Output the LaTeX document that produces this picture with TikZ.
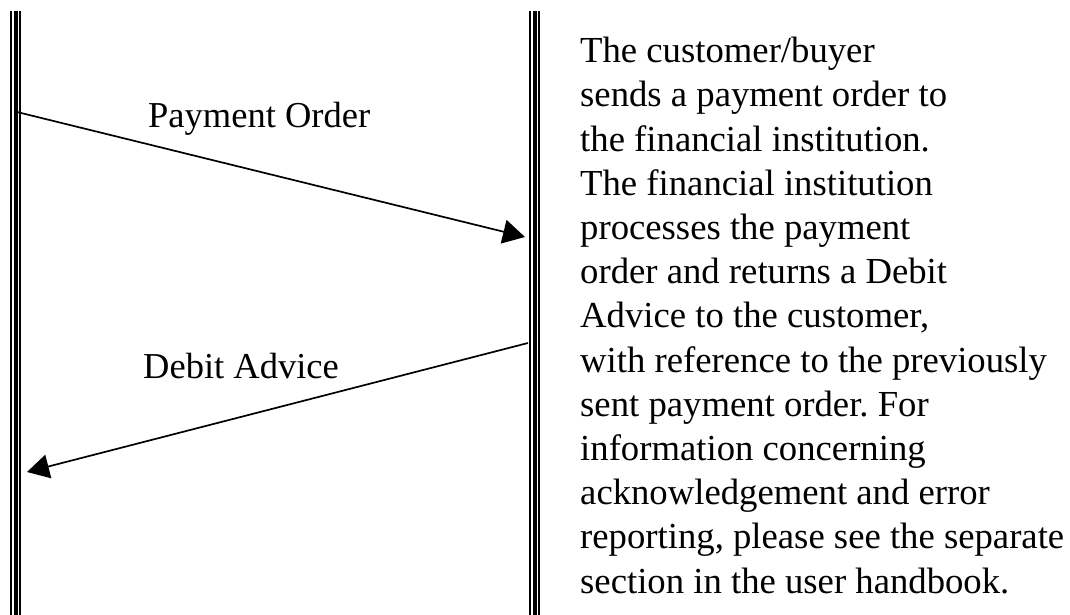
\documentclass[tikz,border=0pt]{standalone}
\usepackage{fontspec}
\setmainfont{Liberation Serif}
\usetikzlibrary{arrows.meta}
\frenchspacing

\tikzset{
  msgfont/.style={font=\fontsize{36.5}{44.2}\selectfont},
  notefont/.style={font=\fontsize{36.7}{44.2}\selectfont},
  thinrule/.style={line width=1.6pt},
  thickrule/.style={line width=4pt},
  message/.style={line width=1.7pt, -{Triangle[length=22pt,width=24pt]}},
  msglabel/.style={msgfont, anchor=base west, inner sep=0pt},
  notelabel/.style={notefont, anchor=base west, inner sep=0pt}
}

% a triple-ruled lifeline centred on x = #1, from y = #2 down to y = #3
\newcommand\lifeline[3]{%
  \draw[thinrule]  (#1-4.5,#2) -- (#1-4.5,#3);
  \draw[thickrule] (#1,#2) -- (#1,#3);
  \draw[thinrule]  (#1+4.5,#2) -- (#1+4.5,#3);
}

\begin{document}
\begin{tikzpicture}[x=1pt,y=-1pt]
  \useasboundingbox (0,0) rectangle (1070,615);

  % customer and financial institution lifelines
  \lifeline{15.5}{11}{616}
  \lifeline{534.5}{11}{616}

  % message end points on the lifelines
  \coordinate (custOut) at (17,112);
  \coordinate (bankIn)  at (525,237);
  \coordinate (bankOut) at (528,343);
  \coordinate (custIn)  at (27,472);

  \draw[message] (custOut) -- (bankIn);
  \draw[message] (bankOut) -- (custIn);

  \node[msglabel] (payorder) at (148,128) {Payment Order};
  \node[msglabel] (debitadv) at (143,378) {Debit Advice};

  % explanatory text beside the institution lifeline
  \node[notelabel] (desc) at (580,62.7) {\vtop{\baselineskip=44.2pt
    \hbox{The customer/buyer}
    \hbox{sends a payment order to}
    \hbox{the financial institution.}
    \hbox{The financial institution}
    \hbox{processes the payment}
    \hbox{order and returns a Debit}
    \hbox{Advice to the customer,}
    \hbox{with reference to the previously}
    \hbox{sent payment order. For}
    \hbox{information concerning}
    \hbox{acknowledgement and error}
    \hbox{reporting, please see the separate}
    \hbox{section in the user handbook.}}};
\end{tikzpicture}
\end{document}
